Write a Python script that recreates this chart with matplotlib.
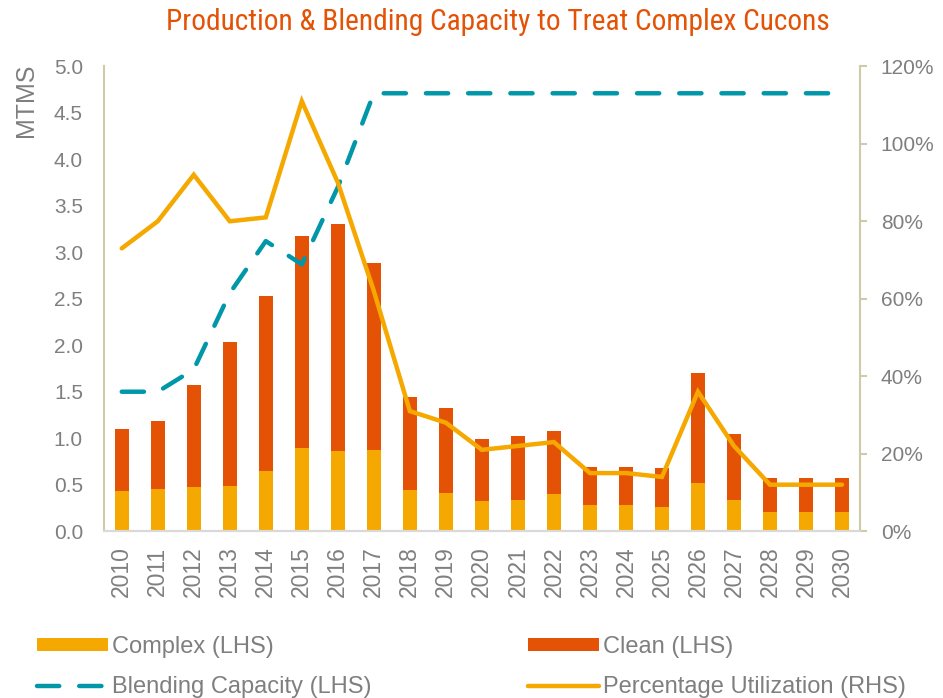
import matplotlib.pyplot as plt
import numpy as np
from matplotlib.ticker import PercentFormatter
from matplotlib import font_manager

years = [str(y) for y in range(2010, 2031)]
total = [1.10, 1.19, 1.57, 2.03, 2.53, 3.18, 3.30, 2.88, 1.44, 1.32, 0.99, 1.02, 1.08,
         0.69, 0.69, 0.68, 1.70, 1.05, 0.57, 0.57, 0.57]
complex_ = [0.43, 0.45, 0.48, 0.49, 0.65, 0.89, 0.86, 0.87, 0.44, 0.41, 0.32, 0.34, 0.40,
            0.28, 0.28, 0.26, 0.52, 0.34, 0.21, 0.21, 0.21]
clean = [t - c for t, c in zip(total, complex_)]
blending = [1.5, 1.5, 1.74, 2.56, 3.12, 2.87, 3.70, 4.71, 4.71, 4.71, 4.71, 4.71, 4.71,
            4.71, 4.71, 4.71, 4.71, 4.71, 4.71, 4.71, 4.71]
utilization = [73, 80, 92, 80, 81, 111, 90, 62, 31, 28, 21, 22, 23, 15, 15, 14, 36, 22,
               12, 12, 12]

AMBER = '#F5A800'
ORANGE = '#E35205'
TEAL = '#0097A9'
GREY = '#7F7F7F'
KHAKI = '#CFCBA8'

plt.rcParams['font.family'] = ['Liberation Sans', 'DejaVu Sans']

# condensed face for the title if there is one
names = {f.name for f in font_manager.fontManager.ttflist}
if 'Roboto Condensed' in names:
    title_font, title_size = 'Roboto Condensed', 21.2
else:
    title_font, title_size = 'Roboto', 18

fig = plt.figure(figsize=(9.43, 6.98), dpi=100)
ax = fig.add_axes([0.110, 0.239, 0.802, 0.666])
ax2 = ax.twinx()

x = np.arange(len(years))
ax.bar(x, complex_, width=0.4, color=AMBER, label='Complex (LHS)', zorder=2)
ax.bar(x, clean, width=0.4, bottom=complex_, color=ORANGE, label='Clean (LHS)', zorder=2)
ax.plot(x, blending, color=TEAL, lw=3.2, ls=(0, (5, 4.5)), dash_capstyle='round',
        label='Blending Capacity (LHS)', zorder=3)
ax2.plot(x, utilization, color=AMBER, lw=3.2, solid_capstyle='round',
         solid_joinstyle='miter', label='Percentage Utilization (RHS)')

ax.set_xlim(-0.5, len(years) - 0.5)
ax.set_ylim(0, 5)
ax.set_yticks(np.arange(0, 5.01, 0.5))
ax.set_yticklabels([f'{v:.1f}' for v in np.arange(0, 5.01, 0.5)])
ax.set_xticks(x)
ax.set_xticklabels(years, rotation=90)
ax2.set_ylim(0, 120)
ax2.set_yticks(range(0, 121, 20))
ax2.yaxis.set_major_formatter(PercentFormatter(decimals=0))

for a in (ax, ax2):
    a.spines['top'].set_visible(False)
    a.spines['left'].set_color(KHAKI)
    a.spines['right'].set_color(KHAKI)
    a.spines['bottom'].set_color('#D9D9D9')
    a.spines['left'].set_linewidth(1.5)
    a.spines['right'].set_linewidth(1.5)
    a.spines['bottom'].set_linewidth(1.5)
ax2.spines['left'].set_visible(False)
ax.spines['right'].set_visible(False)

ax.tick_params(axis='y', length=0, labelsize=15, labelcolor=GREY, pad=15)
ax.tick_params(axis='x', length=0, labelsize=16.5, labelcolor=GREY, pad=11)
ax2.tick_params(axis='y', length=5, color=KHAKI, width=1.5, labelsize=15,
                labelcolor=GREY, pad=10)

ax.set_ylabel('MTMS', fontsize=18, color=GREY)
ax.yaxis.set_label_coords(-0.103, 1.005)
ax.yaxis.label.set_verticalalignment('center')
ax.yaxis.label.set_horizontalalignment('right')

fig.text(0.528, 0.969, 'Production & Blending Capacity to Treat Complex Cucons',
         ha='center', va='center', fontsize=title_size, color=ORANGE,
         family=[title_font, 'Liberation Sans', 'DejaVu Sans'])

h1, l1 = ax.get_legend_handles_labels()
h2, l2 = ax2.get_legend_handles_labels()
# order: Complex, Clean / Blending, Utilization
handles = [h1[1], h1[0], h1[2], h2[0]]
labels = [l1[1], l1[0], l1[2], l2[0]]
fig.legend(handles, labels, loc='upper left', bbox_to_anchor=(0.019, 0.116), ncol=2,
           frameon=False, fontsize=17, labelcolor=GREY, handlelength=3.0,
           handleheight=0.5, handletextpad=0.2, columnspacing=6.6, labelspacing=0.78,
           borderpad=0.3)

fig.savefig('out.png', dpi=100)
